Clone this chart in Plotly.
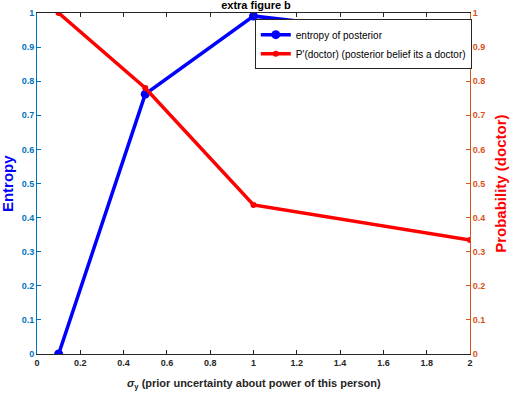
import plotly.graph_objects as go

sigma = [0.1, 0.5, 1.0, 2.0]
entropy = [0.0, 0.762, 0.991, 0.918]
p_doctor = [1.0, 0.78, 0.437, 0.334]
ticks_x = [0, 0.2, 0.4, 0.6, 0.8, 1, 1.2, 1.4, 1.6, 1.8, 2]
ticks_y = [0, 0.1, 0.2, 0.3, 0.4, 0.5, 0.6, 0.7, 0.8, 0.9, 1]

BLUE = "#0000FF"
RED = "#FF0000"
LBLUE = "#0072BD"
ORANGE = "#D95319"
FONT = "Liberation Sans"

fig = go.Figure()
fig.add_trace(go.Scatter(x=sigma, y=entropy, mode="lines+markers", name="entropy of posterior",
                         line=dict(color=BLUE, width=3.5), marker=dict(color=BLUE, size=9), yaxis="y"))
fig.add_trace(go.Scatter(x=sigma, y=p_doctor, mode="lines+markers",
                         name="P'(doctor) (posterior belief its a doctor)",
                         line=dict(color=RED, width=3.5), marker=dict(color=RED, size=6), yaxis="y2"))

fig.update_layout(
    width=512, height=394,
    margin=dict(l=37, r=42, t=13, b=40, autoexpand=False),
    plot_bgcolor="white", paper_bgcolor="white",
    font=dict(family=FONT, size=9, color="#262626"),
    title=dict(text="<b>extra figure b</b>", x=0.5, xanchor="center", y=0.997, yanchor="top",
               font=dict(size=11, color="black", family=FONT)),
    showlegend=True,
    legend=dict(x=0.503, y=0.982, xanchor="left", yanchor="top", bgcolor="white",
                bordercolor="#262626", borderwidth=1, font=dict(size=10, color="black", family=FONT),
                tracegroupgap=0),
    xaxis=dict(range=[0, 2], tickvals=ticks_x, ticktext=[f"{v:g}" for v in ticks_x],
               ticks="inside", ticklen=4, tickcolor="#262626", showline=True, linecolor="#262626",
               linewidth=1, mirror="ticks", showgrid=False, zeroline=False, automargin=False,
               tickfont=dict(size=9, color="#262626", family=FONT, weight="bold")),
    yaxis=dict(range=[0, 1], tickvals=ticks_y, ticktext=[f"{v:g}" for v in ticks_y],
               ticks="inside", ticklen=4, tickcolor=LBLUE, showline=True, linecolor=LBLUE,
               linewidth=1, showgrid=False, zeroline=False, automargin=False,
               tickfont=dict(size=9, color=LBLUE, family=FONT, weight="bold")),
    yaxis2=dict(range=[0, 1], tickvals=ticks_y, ticktext=[f"{v:g}" for v in ticks_y],
                overlaying="y", side="right", automargin=False,
                ticks="inside", ticklen=4, tickcolor=ORANGE, showline=True, linecolor=ORANGE,
                linewidth=1, showgrid=False, zeroline=False,
                tickfont=dict(size=9, color=ORANGE, family=FONT, weight="bold")),
    annotations=[
        dict(text="<b>Entropy</b>", textangle=-90, xref="paper", yref="paper",
             x=-0.068, y=0.5, xanchor="center", yanchor="middle", showarrow=False,
             font=dict(size=15, color=BLUE, family=FONT)),
        dict(text="<b>Probability (doctor)</b>", textangle=-90, xref="paper", yref="paper",
             x=1.07, y=0.5, xanchor="center", yanchor="middle", showarrow=False,
             font=dict(size=15, color=RED, family=FONT)),
        dict(text="<b><i>σ</i><sub>y</sub> (prior uncertainty about power of this person)</b>",
             xref="paper", yref="paper", x=0.5, y=-0.062, xanchor="center", yanchor="top",
             showarrow=False, font=dict(size=11, color="#262626", family=FONT)),
    ],
)

fig.write_html("out.html", config={"displayModeBar": False},
               post_script="document.body.style.margin='0';document.body.style.overflow='hidden';")
